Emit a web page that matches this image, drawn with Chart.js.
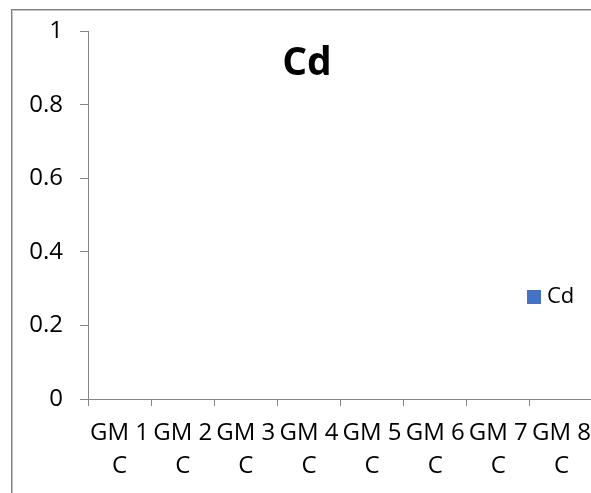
<!DOCTYPE html>
<html>
<head>
<meta charset="utf-8">
<script src="https://cdn.jsdelivr.net/npm/chart.js@4/dist/chart.umd.min.js"></script>
<style>
  html, body { margin: 0; padding: 0; background: #fff; overflow: hidden; width: 591px; height: 493px; }
  #frame { position: absolute; left: 11px; top: 9px; width: 700px; height: 600px;
           border-left: 1px solid #7f7f7f; border-top: 1px solid #7f7f7f;
           box-shadow: inset 1px 1px 0 #c4c4c4; box-sizing: border-box; }
  #wrap { position: absolute; left: 0; top: 0; width: 620px; height: 493px; }
</style>
</head>
<body>
<div id="frame"></div>
<div id="wrap"><canvas id="c"></canvas></div>
<script>
// Cd content per sample
const TITLE = 'Cd';
const categories = ['GM 1 C', 'GM 2 C', 'GM 3 C', 'GM 4 C', 'GM 5 C', 'GM 6 C', 'GM 7 C', 'GM 8 C'];
const cdValues = [0, 0, 0, 0, 0, 0, 0, 0];
const yTicks = [0, 0.2, 0.4, 0.6, 0.8, 1];

const AXIS = '#868686';
const FONT = "'Open Sans', sans-serif";

// break "GM 1 C" into "GM 1" / "C"
const wrapLabel = s => { const i = s.lastIndexOf(' '); return [s.slice(0, i), s.slice(i + 1)]; };

const titleLegend = {
  id: 'titleLegend',
  afterDraw(chart) {
    const ctx = chart.ctx;
    ctx.save();
    ctx.fillStyle = '#000';
    ctx.font = `bold 39px ${FONT}`;
    ctx.textAlign = 'center';
    ctx.textBaseline = 'alphabetic';
    ctx.fillText(TITLE, 307, 75);

    const ds = chart.data.datasets[0];
    ctx.fillStyle = ds.backgroundColor;
    ctx.fillRect(527, 290, 14, 14);
    ctx.fillStyle = '#000';
    ctx.font = `22px ${FONT}`;
    ctx.textAlign = 'left';
    ctx.textBaseline = 'middle';
    ctx.fillText(ds.label, 547, 297);
    ctx.restore();
  }
};

new Chart(document.getElementById('c'), {
  type: 'bar',
  data: {
    labels: categories.map(wrapLabel),
    datasets: [{ label: 'Cd', data: cdValues, backgroundColor: '#4472C4', borderWidth: 0 }]
  },
  options: {
    responsive: true,
    maintainAspectRatio: false,
    animation: false,
    layout: { padding: { left: 0, right: 27, top: 29, bottom: 0 } },
    plugins: { legend: { display: false }, title: { display: false }, tooltip: { enabled: false } },
    scales: {
      x: {
        offset: true,
        grid: { offset: true, drawOnChartArea: false, drawTicks: true, tickLength: 7, color: AXIS },
        border: { display: true, color: AXIS, width: 1 },
        ticks: { color: '#000', font: { family: FONT, size: 24, lineHeight: 1.4 }, padding: 10, maxRotation: 0, autoSkip: false },
        afterFit(s) { s.height = 94; }
      },
      y: {
        min: 0, max: 1,
        afterBuildTicks(s) { s.ticks = yTicks.map(v => ({ value: v })); },
        grid: { drawOnChartArea: false, drawTicks: true, tickLength: 8, color: AXIS },
        border: { display: true, color: AXIS, width: 1 },
        ticks: { color: '#000', font: { family: FONT, size: 24 }, padding: 17, callback: v => String(v) },
        afterFit(s) { s.width = 88; }
      }
    }
  },
  plugins: [titleLegend]
});
</script>
</body>
</html>
